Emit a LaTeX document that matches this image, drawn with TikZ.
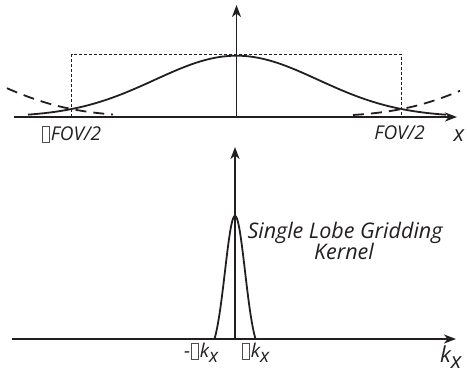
\documentclass[tikz,border=0pt]{standalone}
\usepackage{fontspec}
\setmainfont{Open Sans}
\usetikzlibrary{arrows.meta}
\definecolor{ink}{HTML}{231F20}
\newcommand{\nog}{\kern0.6pt{\fboxsep=0pt\fboxrule=0.6pt\color{ink!80}\raisebox{-0.1em}{\fbox{\rule{0pt}{0.82em}\hspace{0.36em}}}}\kern1pt}
\newcommand{\kx}{k\raisebox{-0.3em}{x}}
\tikzset{
  axis/.style={line width=1.8pt, draw=ink, -{Stealth[length=12pt,width=9pt,inset=3.5pt]}},
  curve/.style={line width=1.8pt, draw=ink},
  dcurve/.style={line width=1.8pt, draw=ink, dash pattern=on 11pt off 7pt},
  box/.style={line width=0.8pt, draw=ink, dash pattern=on 3pt off 2pt},
  lab/.style={font=\fontsize{19}{23}\selectfont\itshape, text=ink, inner sep=0pt},
  klab/.style={font=\fontsize{21.5}{22}\selectfont\itshape, text=ink, inner sep=0pt},
  biglab/.style={font=\fontsize{22}{26}\selectfont\itshape, text=ink, inner sep=0pt},
}
\begin{document}
\begin{tikzpicture}[x=1pt,y=-1pt]
\useasboundingbox (0,0) rectangle (467,376);
% top plot
\coordinate (tO) at (236.5,117);
\coordinate (tL) at (14,117);
\coordinate (tR) at (457,117);
\coordinate (tT) at (236.5,5);
\draw[box] (71.7,117) -- (71.7,54.3) -- (401.7,54.3) -- (401.7,117);
\draw[dcurve] plot[domain=7:113, samples=60] (\x, {117 - 61.3*exp(-((\x+93.5)/81.7)^2/2)});
\draw[dcurve] plot[domain=353:460, samples=60] (\x, {117 - 61.3*exp(-((\x-566.5)/81.7)^2/2)});
\draw[curve] plot[domain=28:446, samples=150] (\x, {117 - 61.3*exp(-((\x-236.5)/81.7)^2/2)});
\draw[axis] (tL) -- (tR);
\draw[axis] (tO) -- (tT);
\node[lab, anchor=base west] (lfov) at (41,140) {\nog FOV/2};
\node[lab, anchor=base east] (rfov) at (425,139) {FOV/2};
\node[biglab, anchor=base] (xl) at (459,141) {x};
% bottom plot
\coordinate (bO) at (235,339);
\coordinate (bL) at (12,339);
\coordinate (bR) at (456,339);
\coordinate (bT) at (235,147);
\draw[curve] plot[domain=214.5:255.5, samples=80] (\x, {339 - 123*(exp(-((\x-235)/10)^2/2) - 0.1223)/0.8777});
\draw[axis] (bL) -- (bR);
\draw[axis] (bO) -- (bT);
\node[klab, anchor=base] (kern1) at (345,238) {Single Lobe Gridding};
\node[klab, anchor=base] (kern2) at (344,259) {Kernel};
\node[lab, anchor=base west] (mdk) at (184,357) {-\nog\kx};
\node[lab, anchor=base west] (pdk) at (241,357) {\nog\kx};
\node[biglab, anchor=base west] (kxl) at (440,362) {\kx};
\end{tikzpicture}
\end{document}
